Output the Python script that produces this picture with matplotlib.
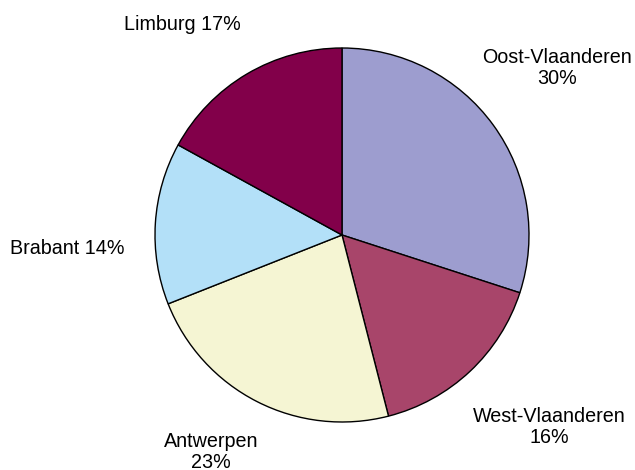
import matplotlib
matplotlib.use('Agg')
import matplotlib.pyplot as plt

# data
provinces = ['Oost-Vlaanderen', 'West-Vlaanderen', 'Antwerpen', 'Brabant', 'Limburg']
shares = [30, 16, 23, 14, 17]
colors = ['#9D9DCF', '#A8456A', '#F5F5D3', '#B3E0F8', '#82004A']
# label text layout: two lines or one line
two_line = [True, True, True, False, False]
# label centres in pixel space (x, y from top)
label_pos = [(557, 68), (549, 427), (211, 452), (67, 248), (182, 25)]

W, H = 635, 470
fig = plt.figure(figsize=(W / 100, H / 100), dpi=100)
ax = fig.add_axes([0, 0, 1, 1])
ax.set_xlim(0, W)
ax.set_ylim(0, H)
ax.set_aspect('equal')
ax.axis('off')

cx, cy, r = 342, H - 235, 187
ax.pie(shares, colors=colors, startangle=90, counterclock=False,
       center=(cx, cy), radius=r, frame=True,
       wedgeprops=dict(edgecolor='black', linewidth=1.0))
ax.set_xlim(0, W)
ax.set_ylim(0, H)
ax.axis('off')

for name, val, two, (px, py) in zip(provinces, shares, two_line, label_pos):
    sep = '\n' if two else ' '
    ax.text(px, H - py, f'{name}{sep}{val}%', ha='center', va='center',
            fontsize=14.2, family='Liberation Sans', linespacing=1.1)

fig.savefig('out.png', dpi=100, facecolor='white')
